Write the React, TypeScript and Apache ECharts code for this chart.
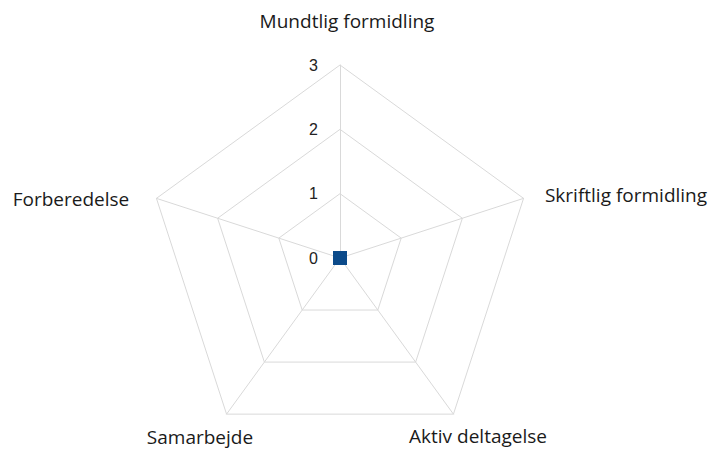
import React, { useEffect, useRef } from "react";
import * as echarts from "echarts";

const indicators = ["Mundtlig formidling", "Skriftlig formidling", "Aktiv deltagelse", "Samarbejde", "Forberedelse"];
const values = [0, 0, 0, 0, 0];
const axisMax = 3;
const tickCount = 3;

const nameFont = "'Open Sans', Lato, sans-serif";

export default function App() {
  const ref = useRef<HTMLDivElement>(null);
  useEffect(() => {
    if (!ref.current) return;
    const chart = echarts.init(ref.current, undefined, { renderer: "svg" });
    const namePos: [number, number][] = [
      [347, 21],
      [626, 195],
      [478, 436],
      [200, 437],
      [71, 199],
    ];
    chart.setOption({
      animation: false,
      backgroundColor: "#ffffff",
      radar: {
        center: [340, 258],
        radius: 193,
        startAngle: 90,
        shape: "polygon",
        splitNumber: tickCount,
        indicator: indicators.map((n, i) => ({
          name: n,
          min: 0,
          max: axisMax,
          ...(i === 0
            ? {
                axisLabel: {
                  show: true,
                  color: "#222",
                  fontSize: 16,
                  fontFamily: "Arial, 'Liberation Sans', sans-serif",
                  margin: 22,
                  showMaxLabel: true,
                  showMinLabel: true,
                },
              }
            : {}),
        })),
        axisName: { show: false },
        axisLine: { show: true, lineStyle: { color: "#d9d9d9", width: 1 } },
        splitLine: { show: true, lineStyle: { color: "#d9d9d9", width: 1 } },
        splitArea: { show: false },
        axisTick: { show: false },
        axisLabel: { show: false },
      },
      series: [
        {
          type: "radar",
          symbol: "rect",
          symbolSize: 14,
          itemStyle: { color: "#0b4a8a" },
          lineStyle: { color: "#0b4a8a", width: 2 },
          data: [{ value: values, name: "Serie 1" }],
        },
      ],
      graphic: indicators.map((n, i) => ({
        type: "text",
        x: namePos[i][0],
        y: namePos[i][1],
        style: {
          text: n,
          fill: "#1a1a1a",
          font: `19px ${nameFont}`,
          textAlign: "center",
          textVerticalAlign: "middle",
        },
      })),
    });
    return () => chart.dispose();
  }, []);
  return <div ref={ref} style={{ position: "fixed", left: 0, top: 0, width: 715, height: 450 }} />;
}
